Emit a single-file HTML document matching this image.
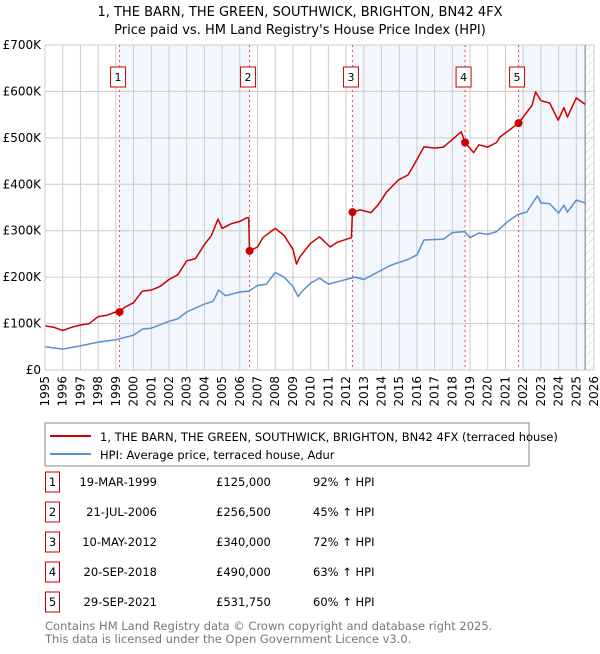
<!DOCTYPE html>
<html><head><meta charset="utf-8"><style>
body{margin:0;background:#fff;font-family:"DejaVu Sans","Liberation Sans",sans-serif;}
svg text{font-family:"DejaVu Sans","Liberation Sans",sans-serif;}
</style></head><body>
<svg id="c" width="600" height="650" xmlns="http://www.w3.org/2000/svg">
<defs><pattern id="hatch" width="6" height="6" patternUnits="userSpaceOnUse" patternTransform="rotate(45)"><line x1="0" y1="0" x2="0" y2="6" stroke="#ccc" stroke-width="1"/></pattern></defs>
<text x="300" y="16" text-anchor="middle" font-size="13">1, THE BARN, THE GREEN, SOUTHWICK, BRIGHTON, BN42 4FX</text>
<text x="300" y="34" text-anchor="middle" font-size="13">Price paid vs. HM Land Registry's House Price Index (HPI)</text>
<g id="plot"></g>
<rect x="45" y="423" width="484" height="43" fill="#fff" stroke="#888"/>
<line x1="50" y1="436" x2="91" y2="436" stroke="#cc0000" stroke-width="2"/>
<text x="100" y="441" font-size="11.5">1, THE BARN, THE GREEN, SOUTHWICK, BRIGHTON, BN42 4FX (terraced house)</text>
<line x1="50" y1="454" x2="91" y2="454" stroke="#5b8fd4" stroke-width="2"/>
<text x="100" y="459" font-size="11.5">HPI: Average price, terraced house, Adur</text>
<g id="table"></g>
<text x="45" y="630" font-size="11.5" fill="#777">Contains HM Land Registry data © Crown copyright and database right 2025.</text>
<text x="45" y="643" font-size="11.5" fill="#777">This data is licensed under the Open Government Licence v3.0.</text>
</svg>
<script>
const yTicks=[0,100,200,300,400,500,600,700];
const yTickLabels=["£0","£100K","£200K","£300K","£400K","£500K","£600K","£700K"];
const years=[1995,1996,1997,1998,1999,2000,2001,2002,2003,2004,2005,2006,2007,2008,2009,2010,2011,2012,2013,2014,2015,2016,2017,2018,2019,2020,2021,2022,2023,2024,2025,2026];
const redT=[1995,1995.5,1996,1996.5,1997,1997.5,1998,1998.5,1999,1999.2,1999.5,2000,2000.5,2001,2001.5,2002,2002.5,2003,2003.5,2004,2004.4,2004.77,2005,2005.5,2006,2006.4,2006.5,2006.55,2007,2007.3,2008,2008.5,2009,2009.2,2009.4,2010,2010.5,2011.1,2011.5,2012.05,2012.3,2012.36,2012.8,2013.4,2013.8,2014.3,2014.95,2015.5,2015.9,2016.4,2017,2017.5,2018.5,2018.72,2019.2,2019.5,2020,2020.5,2020.7,2021.5,2021.74,2022,2022.5,2022.7,2023,2023.5,2023.98,2024.3,2024.5,2025,2025.5];
const redV=[95,92,85,92,97,100,115,118,125,125,135,145,170,172,180,195,205,235,240,270,290,325,305,315,320,328,328,256.5,265,285,305,290,260,228,244,273,287,265,275,282,285,340,345,339,355,384,409,420,446,481,478,480,513,490,468,485,480,490,502,525,531.75,545,570,599,580,575,538,565,545,586,572];
const hpiT=[1995,1996,1997,1998,1999,2000,2000.5,2001,2002,2002.5,2003,2004,2004.5,2004.8,2005.2,2006,2006.5,2007,2007.5,2008,2008.5,2009,2009.3,2009.5,2010,2010.5,2011,2011.5,2012,2012.5,2013,2013.5,2014,2014.5,2015,2015.5,2016,2016.4,2017.5,2018,2018.7,2019,2019.5,2020,2020.5,2021.1,2021.7,2022.2,2022.8,2023,2023.5,2024,2024.3,2024.5,2025,2025.5];
const hpiV=[50,45,52,60,65,75,88,90,105,110,125,142,148,172,160,168,170,182,185,210,200,180,158,169,187,198,185,190,195,200,195,205,215,225,232,238,248,280,282,296,298,285,295,292,298,319,335,340,375,360,358,338,355,340,366,360];
const saleT=[1999.21,2006.55,2012.36,2018.72,2021.74];
const saleV=[125,256.5,340,490,531.75];
const saleLabels=["1","2","3","4","5"];
const saleDates=["19-MAR-1999","21-JUL-2006","10-MAY-2012","20-SEP-2018","29-SEP-2021"];
const salePrices=["£125,000","£256,500","£340,000","£490,000","£531,750"];
const salePct=["92% ↑ HPI","45% ↑ HPI","72% ↑ HPI","63% ↑ HPI","60% ↑ HPI"];
const NS="http://www.w3.org/2000/svg";
const X0=45,X1=594,Y0=370,Y1=45;
const xs=t=>X0+(t-1995)/(2026-1995)*(X1-X0);
const ys=v=>Y0-v/700*(Y0-Y1);
const plot=document.getElementById('plot');
function mk(tag,at,parent){const e=document.createElementNS(NS,tag);for(const k in at)e.setAttribute(k,at[k]);(parent||plot).appendChild(e);return e;}
const shadeEnd=[saleT[1],saleT[3],2025.5];
for(let i=0;i<5;i+=2){const a=saleT[i],b=shadeEnd[i/2];
 const r=mk('rect',{x:xs(a),y:Y1,width:xs(b)-xs(a),height:Y0-Y1,fill:'#eef3fc',opacity:0.75});
 
 }
const h=mk('rect',{x:xs(2025.5),y:Y1,width:X1-xs(2025.5),height:Y0-Y1,fill:'url(#hatch)'});


years.forEach(y=>{const l=mk('line',{x1:xs(y),x2:xs(y),y1:Y1,y2:Y0,stroke:'#ccc','stroke-width':1});
 
 
 const t=mk('text',{x:0,y:0,'font-size':12,'text-anchor':'end',transform:`translate(${xs(y)+4},${Y0+6}) rotate(-90)`});t.textContent=y;
 
 });
yTicks.forEach((v,i)=>{const l=mk('line',{x1:X0,x2:X1,y1:ys(v),y2:ys(v),stroke:'#ccc','stroke-width':1});
 
 
 const t=mk('text',{x:41,y:ys(v)+4,'font-size':12,'text-anchor':'end'});t.textContent=yTickLabels[i];
 
 });
const dl=mk('line',{x1:xs(2025.5),x2:xs(2025.5),y1:Y1,y2:Y0,stroke:'#777','stroke-width':1});


saleT.forEach((t,i)=>{const l=mk('line',{x1:xs(t),x2:xs(t),y1:Y1,y2:Y0,stroke:'#e05050','stroke-width':1,'stroke-dasharray':'2,3'});
 
 
 const b=mk('rect',{x:xs(t)-9,y:67,width:15,height:20,fill:'#fff',stroke:'#cc0000'});
 
 
 const tx=mk('text',{x:xs(t)-1.5,y:81,'font-size':11,'text-anchor':'middle'});tx.textContent=saleLabels[i];
 
 });
function path(T,V,col,name){const d=T.map((t,i)=>(i?'L':'M')+xs(t).toFixed(1)+','+ys(V[i]).toFixed(1)).join('');
 const p=mk('path',{d:d,fill:'none',stroke:col,'stroke-width':1.5,'stroke-linejoin':'round'});
 
 }
path(hpiT,hpiV,'#5b8fd4','hpi-line');
path(redT,redV,'#cc0000','property-price-line');
saleT.forEach((t,i)=>{const c=mk('circle',{cx:xs(t),cy:ys(saleV[i]),r:4,fill:'#cc0000'});
 
 });
const axis=mk('line',{x1:X0,x2:X0,y1:Y1,y2:Y0,stroke:'#ccc'});


const tb=document.getElementById('table');
saleLabels.forEach((s,i)=>{const y=482+i*30;
 const b=mk('rect',{x:45.5,y:y-10,width:14,height:20,fill:'#fff',stroke:'#cc0000'},tb);
 
 
 const cells=[[52.5,s,'middle'],[157,saleDates[i],'end'],[216,salePrices[i],'start'],[313,salePct[i],'start']];
 cells.forEach(c=>{const t=mk('text',{x:c[0],y:y+4,'font-size':11.5,'text-anchor':c[2]},tb);t.textContent=c[1];
  
  });});
</script>
</body></html>
